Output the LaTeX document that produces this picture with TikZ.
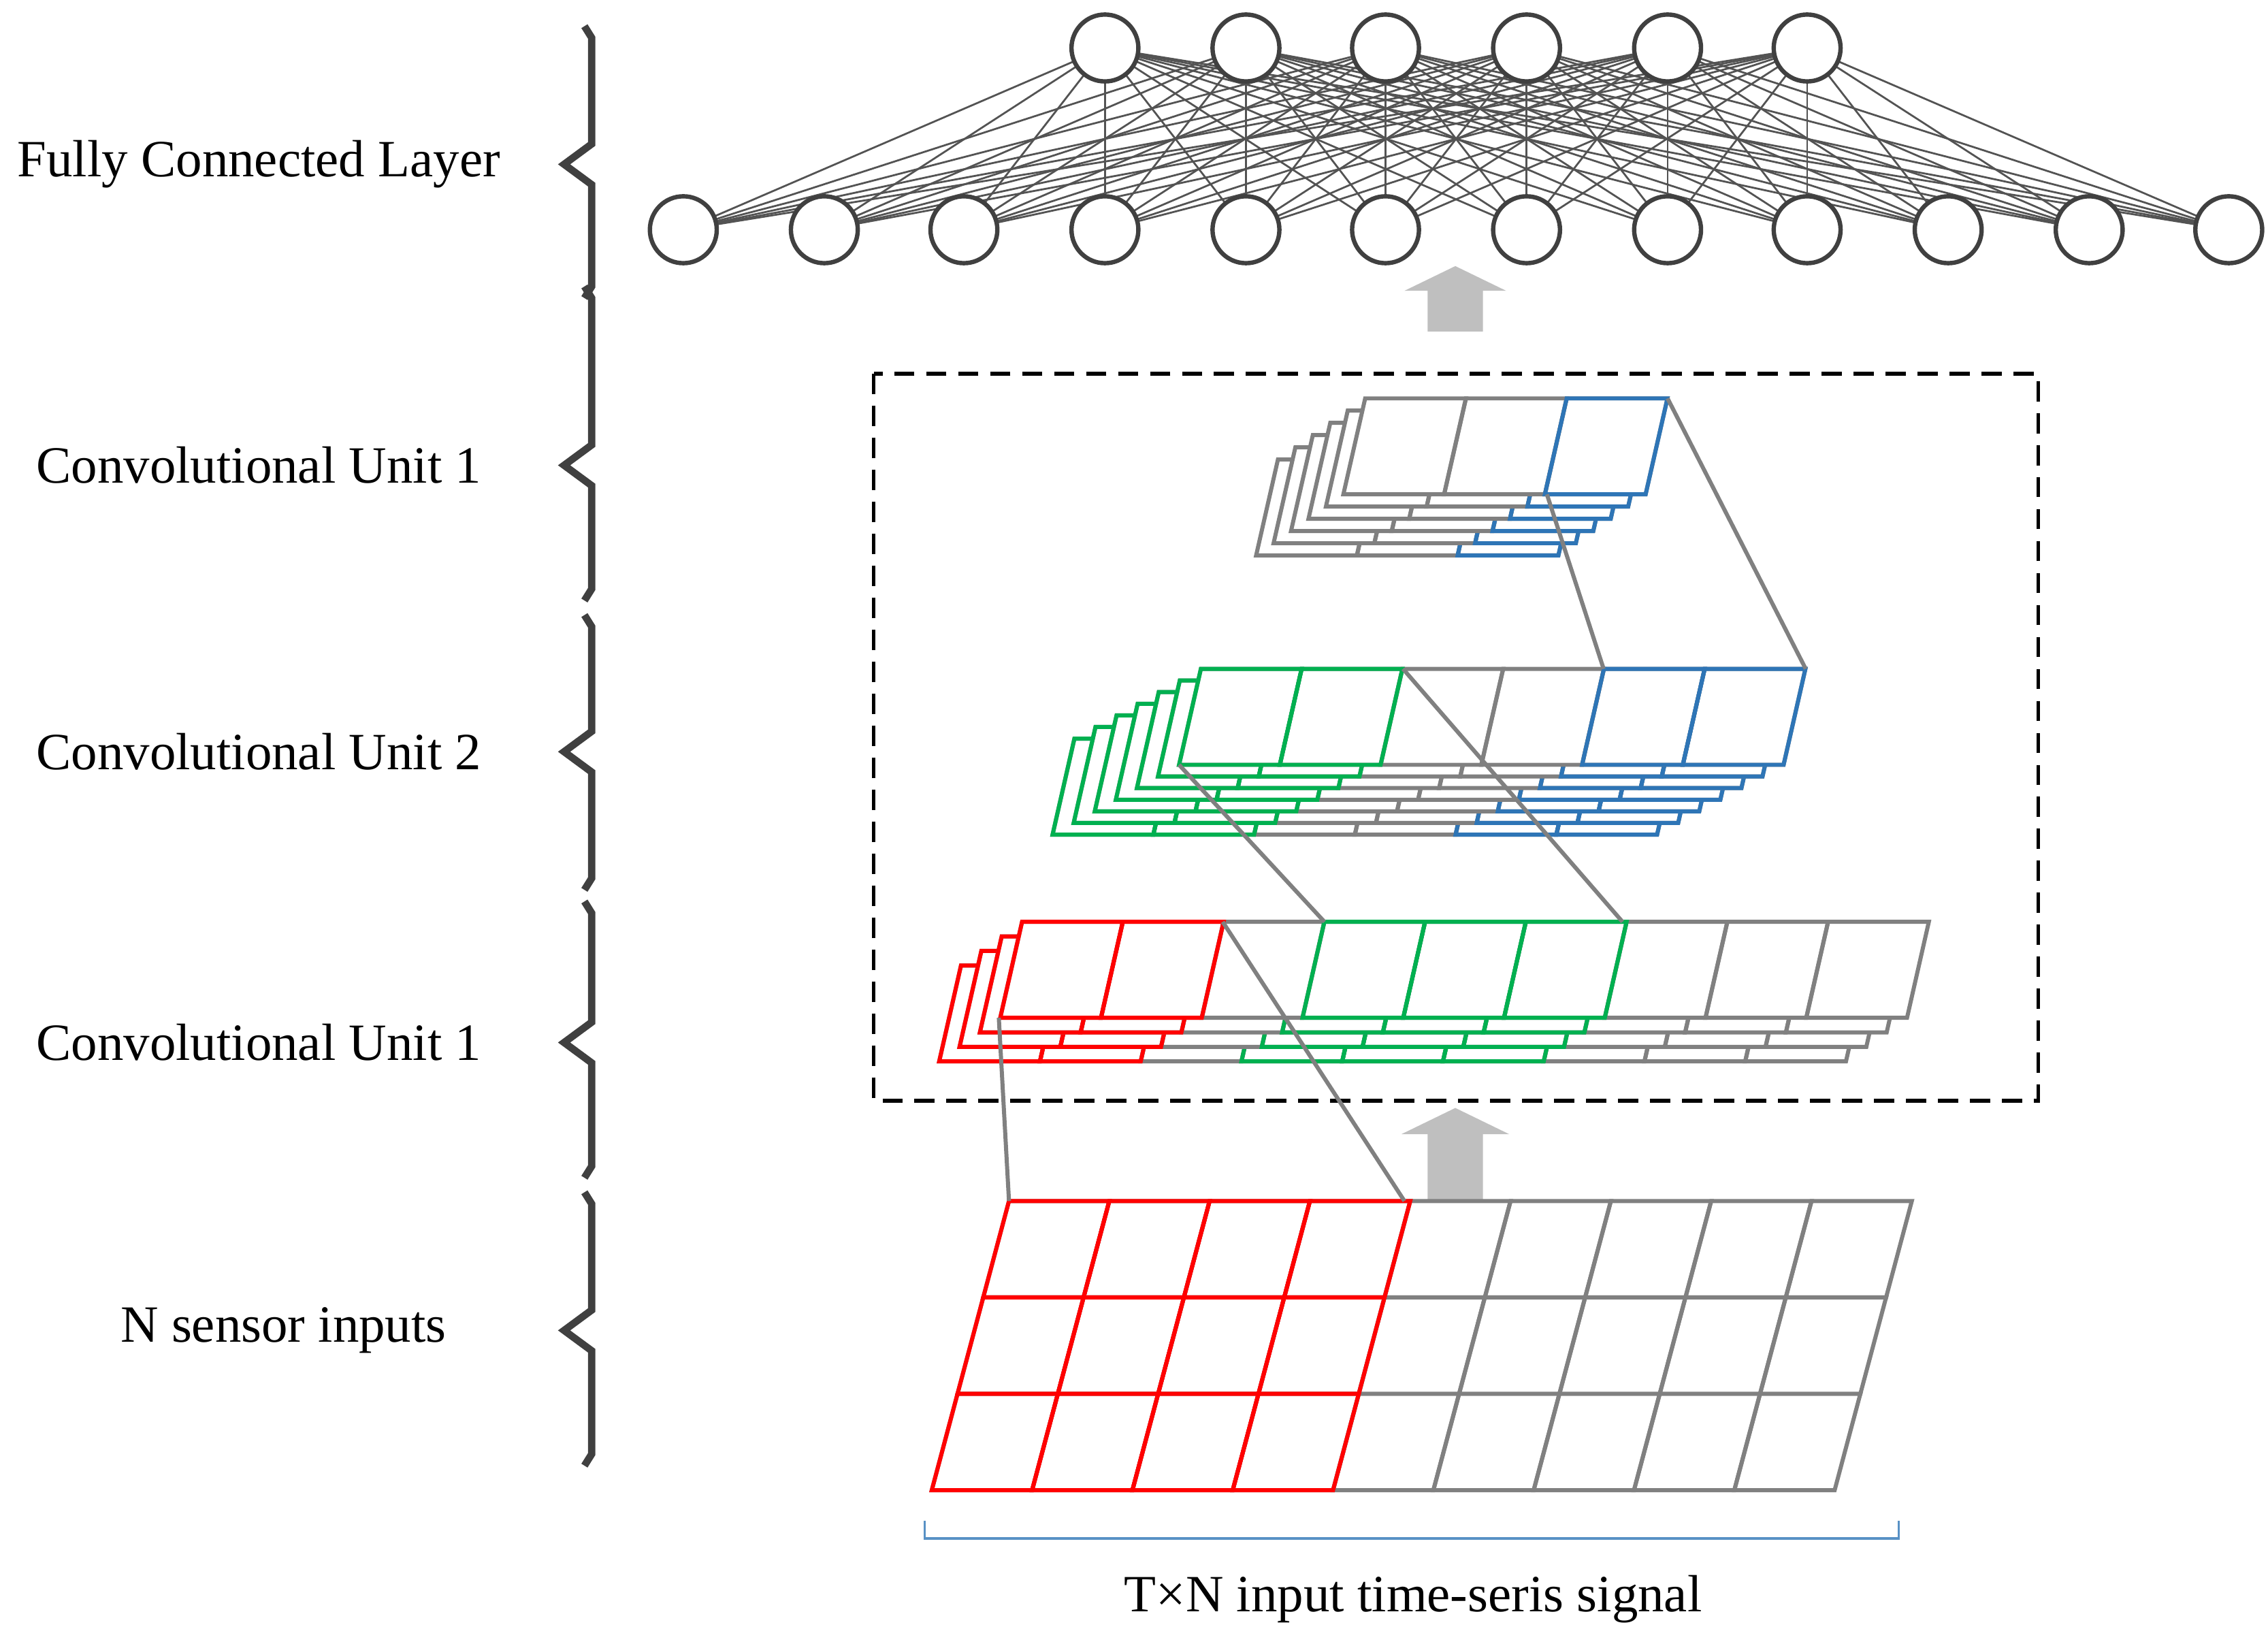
\documentclass[tikz,border=0pt]{standalone}
\usepackage{fontspec}
\setmainfont{Liberation Serif}
\definecolor{gry}{HTML}{808080}
\definecolor{cred}{HTML}{FF0000}
\definecolor{cgrn}{HTML}{00B050}
\definecolor{cblu}{HTML}{2E75B6}
\definecolor{dk}{HTML}{404040}
\definecolor{arr}{HTML}{BFBFBF}
\tikzset{
 sG/.style={draw=gry}, sN/.style={draw=none}, sR/.style={draw=cred}, sGr/.style={draw=cgrn}, sB/.style={draw=cblu},
 cell/.style={line width=2.8pt},
 neu/.style={circle,draw=dk,line width=3pt,fill=white,minimum size=46pt,inner sep=0pt},
 lnk/.style={draw=dk!90,line width=1.3pt},
 brace/.style={draw=dk,line width=5pt,line join=miter},
 lab/.style={font=\fontsize{36}{42}\selectfont},
 conn/.style={draw=gry,line width=2.8pt},
 bigarr/.style={fill=arr,draw=none}
}
\newcommand\layerfill[3]{%
 \fill[white] (#1,#2) -- ++(#3*69.3,0) -- ++(-15,66) -- ++(-#3*69.3,0) -- cycle;}
\newcommand\mylayer[3]{%
 \foreach \c [count=\i] in {#3} {\draw[cell,\c] ({#1+(\i-1)*69.3},#2) -- ++(69.3,0) -- ++(-15,66) -- ++(-69.3,0) -- cycle;}}
\begin{document}
\begin{tikzpicture}[x=1pt,y=-1pt]
\useasboundingbox (0,0) rectangle (1560,1120);
% braces and labels
\foreach \t/\m/\bt/\txt/\lx in {18/113/205/Fully Connected Layer/178,197/320/413/Convolutional Unit 1/178,423/517/612/Convolutional Unit 2/178,620/717/810/Convolutional Unit 1/178,820/915/1008/N sensor inputs/195}{
 \draw[brace] (402,\t) -- (407,\t+8) -- (407,\m-14) -- (388,\m) -- (407,\m+14) -- (407,\bt-8) -- (402,\bt);
 \node[lab] (L\m) at (\lx,\m) {\txt};
}
% dashed box
\draw[line width=2.6pt,dash pattern=on 14pt off 8pt] (601,257) rectangle (1402,757);
% arrows
\fill[bigarr] (982,228) -- (982,200) -- (966,200) -- (1001,183) -- (1036,200) -- (1020,200) -- (1020,228) -- cycle;
\fill[bigarr] (982,827) -- (982,780) -- (964,780) -- (1001,762) -- (1038,780) -- (1020,780) -- (1020,827) -- cycle;
% neural net
\foreach \x [count=\i] in {760,857,953,1050,1147,1243} \coordinate (t\i) at (\x,33);
\foreach \x [count=\i] in {470,567,663,760,857,953,1050,1147,1243,1340,1437,1533} \coordinate (b\i) at (\x,158);
\foreach \i in {1,...,6} \foreach \j in {1,...,12} \draw[lnk] (t\i) -- (b\j);
\foreach \i in {1,...,6} \node[neu] (T\i) at (t\i) {};
\foreach \j in {1,...,12} \node[neu] (B\j) at (b\j) {};
% top unit
\foreach \l in {5,4,...,0}{
 \layerfill{939-\l*12}{274+\l*8.4}{3}
 \mylayer{939-\l*12}{274+\l*8.4}{sG,sG,sG}
 \mylayer{939-\l*12}{274+\l*8.4}{sN,sN,sB}}
% middle unit
\foreach \l in {6,5,...,0}{
 \layerfill{826-\l*14.5}{460+\l*8}{6}
 \mylayer{826-\l*14.5}{460+\l*8}{sG,sG,sG,sG,sG,sG}
 \mylayer{826-\l*14.5}{460+\l*8}{sGr,sGr,sN,sN,sB,sB}}
% bottom unit
\foreach \l in {3,2,1,0}{
 \layerfill{703-\l*14}{634+\l*10}{9}
 \mylayer{703-\l*14}{634+\l*10}{sG,sG,sG,sG,sG,sG,sG,sG,sG}
 \mylayer{703-\l*14}{634+\l*10}{sR,sR,sN,sGr,sGr,sGr,sN,sN,sN}}
% grid
\foreach \cc in {g,r}{
\foreach \j in {1,2,3}{\foreach \i in {1,...,9}{
 \pgfmathsetmacro\isred{\i<5}
 \ifnum\isred=1 \def\col{sR}\else\def\col{sN}\fi
 \if g\cc \def\col{sG}\fi
 \draw[cell,\col] ({694+(\i-1)*69-(\j-1)*17.7},{826+(\j-1)*66.3}) -- ++(69,0) -- ++(-17.7,66.3) -- ++(-69,0) -- cycle;
}}}
% connectors
\coordinate (a1) at (1064,340); \coordinate (a2) at (1103,460);
\coordinate (a3) at (1147,274); \coordinate (a4) at (1242,460);
\coordinate (c1) at (965,460); \coordinate (c2) at (1116,634);
\coordinate (c3) at (811,526); \coordinate (c4) at (911,634);
\coordinate (d1) at (841,634); \coordinate (d2) at (966,826);
\coordinate (d3) at (687,700); \coordinate (d4) at (694,826);
\foreach \p/\q in {a1/a2,a3/a4,c1/c2,c3/c4,d1/d2,d3/d4} \draw[conn] (\p) -- (\q);
% bottom bracket
\draw[draw=cblu!80,line width=1.8pt] (636,1046) -- (636,1058) -- (1306,1058) -- (1306,1046);
\node[lab] (sig) at (972,1100) {T×N input time-seris signal};
\end{tikzpicture}
\end{document}
